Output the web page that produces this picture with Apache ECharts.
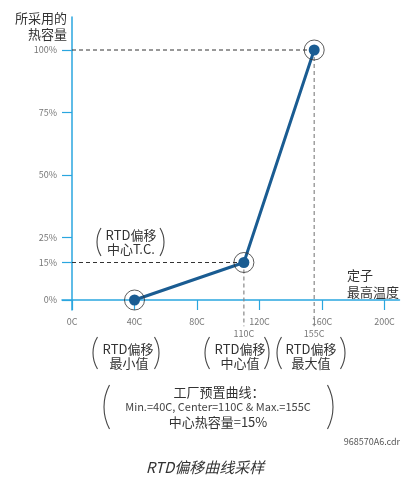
<!DOCTYPE html>
<html><head><meta charset="utf-8">
<script src="https://cdn.jsdelivr.net/npm/echarts@6/dist/echarts.min.js"></script>
<style>html,body{margin:0;padding:0;background:#fff}#c{width:411px;height:484px}</style>
</head><body><div id="c"></div>
<script>
const xTickValues = [0, 40, 80, 120, 160, 200];
const yTickValues = [0, 15, 25, 50, 75, 100];
const curveTemps = [40, 110, 155];
const curveCapacity = [0, 15, 100];
const guideTemps = [110, 155];

const F = "'Noto Sans CJK SC','Noto Sans',sans-serif";
const AX = '#2aa6df';
const LINE = '#1a5c92';

const curve = curveTemps.map((t, i) => [t, curveCapacity[i]]);

function paren(xEdge, yTop, yBot, side, sag) {
  const h = (yBot - yTop) / 2;
  const r = (h * h + sag * sag) / (2 * sag);
  const th = Math.asin(h / r);
  const cy = (yTop + yBot) / 2;
  if (side === 'l') {
    return {type: 'arc', silent: true, shape: {cx: xEdge + r, cy, r, startAngle: Math.PI - th, endAngle: Math.PI + th, clockwise: true},
      style: {stroke: '#444', lineWidth: 1.1, fill: null}};
  }
  return {type: 'arc', silent: true, shape: {cx: xEdge - r, cy, r, startAngle: -th, endAngle: th, clockwise: true},
    style: {stroke: '#444', lineWidth: 1.1, fill: null}};
}
function txt(t, x, y, size, opts) {
  opts = opts || {};
  return {type: 'text', silent: true, style: {text: t, x, y, fill: opts.fill || '#333',
    font: (opts.style || '') + ' ' + (opts.weight || 'normal') + ' ' + size + 'px ' + F,
    textAlign: opts.align || 'center', textVerticalAlign: 'middle'}};
}

const guideSeries = [];
guideTemps.forEach((t, i) => {
  const cap = curveCapacity[curveTemps.indexOf(t)];
  guideSeries.push({type: 'line', data: [[0, cap], [t, cap]], symbol: 'none', clip: false, silent: true,
    lineStyle: {color: '#333', width: 1, type: [4, 3]}, z: 1});
  guideSeries.push({type: 'line', data: [[t, cap], [t, -10.5]], symbol: 'none', clip: false, silent: true,
    lineStyle: {color: '#888', width: 1.2, type: [4, 3]}, z: 1});
});

const chart = echarts.init(document.getElementById('c'));
chart.setOption({
  animation: false,
  grid: {left: 62, right: 11.5, top: 17, bottom: 174},
  xAxis: [{
    type: 'value', min: -6.4, max: 209.6, splitLine: {show: false},
    axisLine: {onZero: true, lineStyle: {color: AX, width: 1.5}},
    axisTick: {customValues: xTickValues, length: 10, lineStyle: {color: AX, width: 1.2}},
    axisLabel: {customValues: xTickValues, formatter: v => v + 'C', margin: 7, color: '#777', fontSize: 9, fontFamily: F}
  }, {
    type: 'value', min: -6.4, max: 209.6, position: 'bottom', splitLine: {show: false},
    axisLine: {show: false, onZero: true},
    axisTick: {show: false},
    axisLabel: {customValues: guideTemps, formatter: v => v + 'C', margin: 19, color: '#777', fontSize: 9, fontFamily: F}
  }],
  yAxis: {
    type: 'value', min: -4, max: 113.2, splitLine: {show: false},
    axisLine: {onZero: true, lineStyle: {color: AX, width: 1.5}},
    axisTick: {customValues: yTickValues, length: 10, lineStyle: {color: AX, width: 1.2}},
    axisLabel: {customValues: yTickValues, formatter: v => v + '%', margin: 5, color: '#777', fontSize: 9, fontFamily: F}
  },
  series: guideSeries.concat([
    {type: 'line', data: curve, symbol: 'circle', symbolSize: 11, clip: false,
      lineStyle: {color: LINE, width: 3}, itemStyle: {color: LINE}, z: 3},
    {type: 'scatter', data: curve, symbol: 'circle', symbolSize: 20, clip: false, silent: true,
      itemStyle: {color: 'rgba(0,0,0,0)', borderColor: '#333', borderWidth: 1}, z: 4}
  ]),
  graphic: [
    txt('所采用的', 67, 18, 13, {align: 'right'}),
    txt('热容量', 67, 34, 13, {align: 'right'}),
    txt('定子', 347, 275, 13, {align: 'left'}),
    txt('最高温度', 347, 292, 13, {align: 'left'}),
    paren(97, 228, 256, 'l', 4), paren(164, 228, 256, 'r', 4),
    txt('RTD偏移', 131, 235, 13), txt('中心T.C.', 131, 249, 13),
    paren(93, 337, 369, 'l', 4.5), paren(159, 337, 369, 'r', 4.5),
    txt('RTD偏移', 128, 349, 13), txt('最小值', 129, 363, 13),
    paren(205, 337, 369, 'l', 4.5), paren(269, 337, 369, 'r', 4.5),
    txt('RTD偏移', 240, 349, 13), txt('中心值', 240, 363, 13),
    paren(277, 337, 369, 'l', 4.5), paren(345, 337, 369, 'r', 4.5),
    txt('RTD偏移', 311, 349, 13), txt('最大值', 311, 363, 13),
    paren(104, 385, 429, 'l', 5.5), paren(333, 385, 429, 'r', 5.5),
    txt('工厂预置曲线：', 219, 392, 13),
    txt('Min.=40C, Center=110C & Max.=155C', 218, 407, 11, {fill: '#444'}),
    txt('中心热容量=15%', 218, 422, 13),
    txt('968570A6.cdr', 400, 442, 9, {align: 'right', fill: '#555'}),
    txt('RTD偏移曲线采样', 205, 467, 15, {style: 'italic', fill: '#333'})
  ]
});
</script></body></html>
